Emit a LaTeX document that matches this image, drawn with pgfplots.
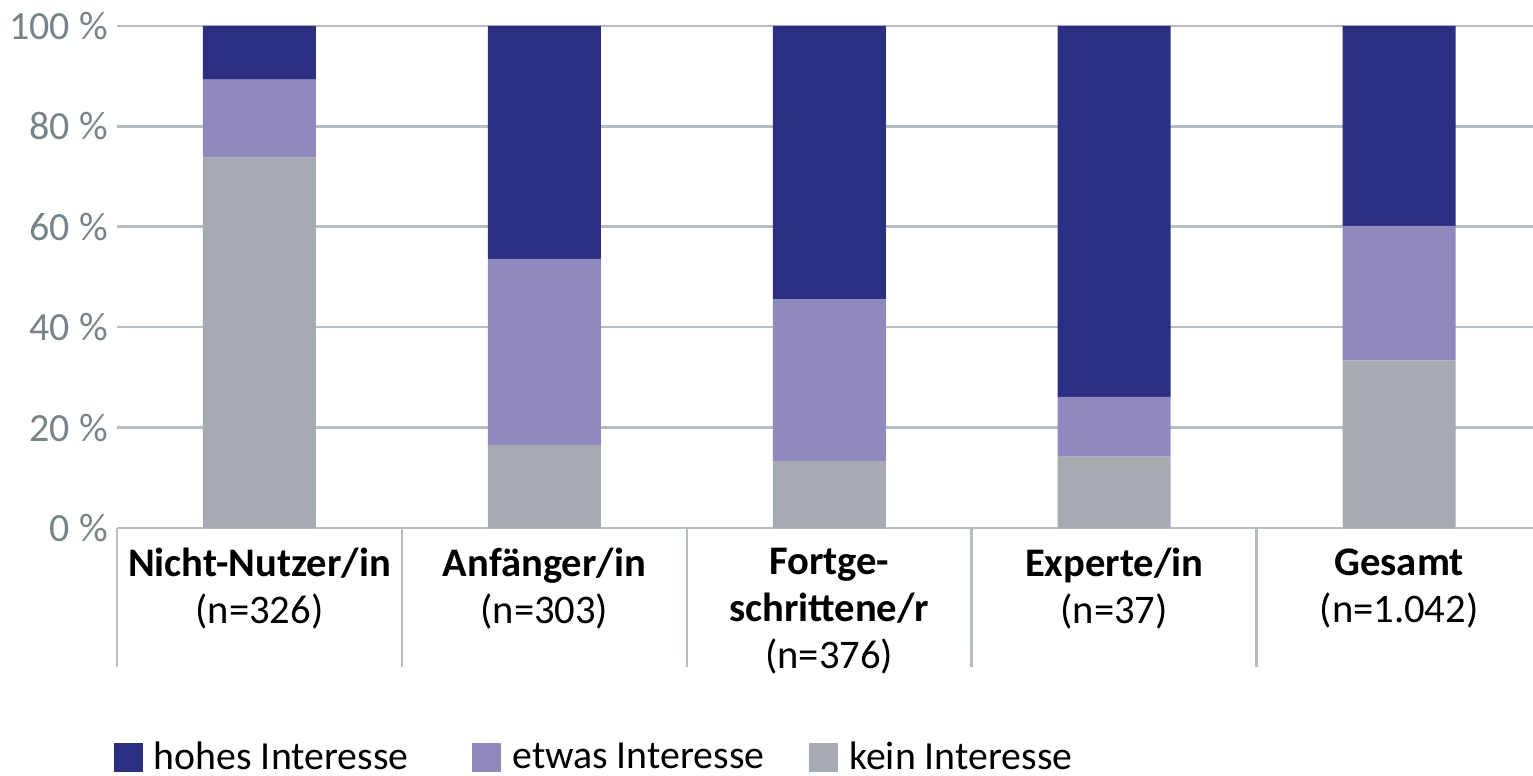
\documentclass[border=0pt]{standalone}
\usepackage{pgfplots}
\pgfplotsset{compat=1.18}
\usepackage{pgfplotstable}
\usepackage{fontspec}
\setmainfont{Carlito}

\definecolor{hohes}{HTML}{2C2E82}
\definecolor{etwas}{HTML}{8F89BD}
\definecolor{kein}{HTML}{A5ABB1}
\definecolor{gridc}{HTML}{B6BDC2}
\definecolor{tickc}{HTML}{76848A}

\newcommand\lbl{\fontsize{20.3pt}{23.5pt}\selectfont}
\newcommand\tck{\fontsize{20pt}{24pt}\selectfont}
\newcommand\leg{\fontsize{19.9pt}{24pt}\selectfont}

% shares in percent, bottom to top
\pgfplotstableread{
x kein etwas hohes
0 73.8 15.5 10.7
1 16.5 37.1 46.4
2 13.3 32.3 54.4
3 14.2 11.9 73.9
4 33.4 26.8 39.8
}\interesse

\begin{document}
\begin{tikzpicture}
\begin{axis}[
    width=708pt, height=251pt, scale only axis,
    ybar stacked, bar width=56.5pt,
    xmin=-0.5, xmax=4.47, ymin=0, ymax=100,
    axis line style={draw=none},
    ytick={0,20,...,100},
    yticklabel={\pgfmathprintnumber{\tick}~\%},
    /pgf/number format/assume math mode=true,
    yticklabel style={font=\tck, text=tickc, inner sep=0pt, xshift=-4.5pt},
    ymajorgrids, grid style={gridc, line width=1.3pt},
    xtick={0,...,4},
    xticklabels={
        {\textbf{Nicht-Nutzer/in}\\(n=326)},
        {\textbf{Anfänger/in}\\(n=303)},
        {\textbf{Fortge-}\\\textbf{schrittene/r}\\(n=376)},
        {\textbf{Experte/in}\\(n=37)},
        {\textbf{Gesamt}\\(n=1.042)}},
    xticklabel style={font=\lbl, align=center, anchor=north, inner sep=0pt, yshift=-10pt},
    minor xtick={-0.5,0.5,1.5,2.5,3.5},
    tick pos=left, tick align=outside,
    major tick length=0pt, minor tick length=69.5pt,
    minor tick style={gridc, line width=1.3pt},
    reverse legend,
    legend columns=3,
    legend style={at={(-0.0025,-0.457)}, anchor=west, draw=none, fill=none,
        inner sep=0pt, font=\leg, nodes={inner sep=0pt},
        /tikz/every odd column/.append style={column sep=5.5pt},
        /tikz/column 2/.append style={column sep=32pt},
        /tikz/column 4/.append style={column sep=22.5pt}},
    legend image code/.code={\fill[#1] (0pt,-7.25pt) rectangle (14.5pt,7.25pt);},
]
\addplot[fill=kein, draw=none] table[x=x, y=kein] {\interesse};
\addplot[fill=etwas, draw=none] table[x=x, y=etwas] {\interesse};
\addplot[fill=hohes, draw=none] table[x=x, y=hohes] {\interesse};
\legend{kein Interesse, etwas Interesse, hohes Interesse}
\end{axis}
\pgfresetboundingbox
\path[use as bounding box] (-58.5pt,-124pt) rectangle (708pt,264pt);
\end{tikzpicture}
\end{document}
